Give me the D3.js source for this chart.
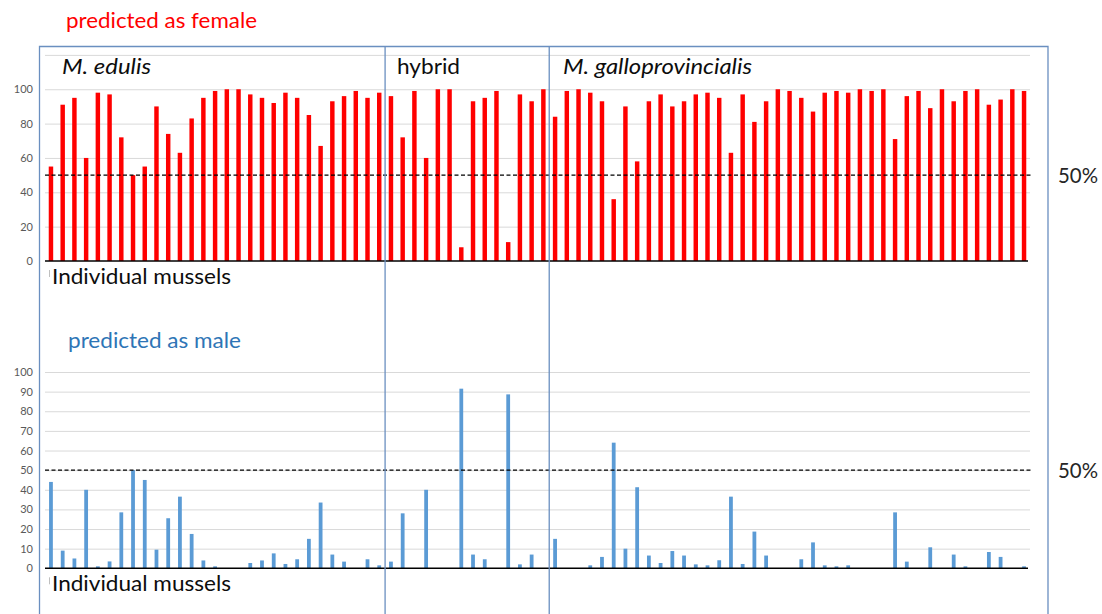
<!DOCTYPE html>
<html>
<head>
<meta charset="utf-8">
<script src="https://cdnjs.cloudflare.com/ajax/libs/d3/7.8.5/d3.min.js"></script>
<style>
  body { margin: 0; background: #fff; }
  text { font-family: Lato, "Open Sans", sans-serif; }
</style>
</head>
<body>
<div id="chart"></div>
<script>
// mussel groups, in the order they appear along the x axis
const groups = ["M. edulis", "hybrid", "M. galloprovincialis"];
const groupSizes = [29, 14, 41];

// % predicted as female, one value per individual mussel
const female = [
  55, 91, 95, 60, 98, 97, 72, 50, 55, 90, 74, 63, 83, 95, 99, 100, 100, 97, 95, 92, 98, 95, 85, 67, 93, 96, 99, 95, 98,
  96, 72, 99, 60, 100, 100, 8, 93, 95, 99, 11, 97, 93, 100,
  84, 99, 100, 98, 93, 36, 90, 58, 93, 97, 90, 93, 97, 98, 95, 63, 97, 81, 93, 100, 99, 95, 87, 98, 99, 98, 100,
  99, 100, 71, 96, 99, 89, 100, 93, 99, 100, 91, 94, 100, 99
];

// % predicted as male, same individuals
const male = [
  44, 9, 5, 40, 1, 3.5, 28.5, 50, 45, 9.5, 25.5, 36.5, 17.5, 4, 1, 0, 0, 2.7, 4, 7.6, 2.2, 4.6, 15, 33.5, 7, 3.4, 0, 4.6, 1.5,
  3.4, 28, 0, 40, 0, 0, 91.5, 7, 4.6, 0, 88.6, 2, 7, 0,
  15, 0, 0, 1.5, 5.8, 64, 10, 41.3, 6.5, 2.7, 8.8, 6.5, 2, 1.5, 4.1, 36.5, 2.2, 18.7, 6.5, 0, 0, 4.6, 13.2, 1.5, 1,
  1.5, 0, 0, 0, 28.5, 3.4, 0, 10.7, 0, 7, 1, 0, 8.3, 5.8, 0, 1
];

const femaleTicks = [0, 20, 40, 60, 80, 100];
const femaleGrid = [20, 40, 60, 80, 100, 120];
const maleTicks = [0, 10, 20, 30, 40, 50, 60, 70, 80, 90, 100];
const threshold = 50;

const width = 1102, height = 614;
const plotLeft = 45, plotRight = 1030;

const svg = d3.select("#chart")
  .append("svg")
  .attr("width", width)
  .attr("height", height);

svg.append("rect").attr("width", width).attr("height", height).attr("fill", "#fff");

// one band per mussel
const x = d3.scaleBand()
  .domain(d3.range(female.length))
  .range([45.1, 1029.9])
  .paddingInner(0.62)
  .paddingOuter(0.31);

// stretch/squeeze a text to the width it has in the picture
function fit(sel, w) {
  sel.attr("textLength", w).attr("lengthAdjust", "spacingAndGlyphs");
}

function panel(opts) {
  const y = d3.scaleLinear().domain(opts.domain).range(opts.range);
  const g = svg.append("g");

  // gridlines
  g.append("g")
    .attr("transform", `translate(${plotLeft},0)`)
    .call(d3.axisLeft(y).tickValues(opts.grid).tickSize(-(plotRight - plotLeft)).tickFormat(""))
    .call(a => a.select(".domain").remove())
    .selectAll("line").attr("stroke", "#d9d9d9").attr("stroke-width", 1);

  // tick labels
  g.append("g")
    .attr("transform", `translate(33,0)`)
    .call(d3.axisLeft(y).tickValues(opts.ticks).tickSize(0).tickPadding(0))
    .call(a => a.select(".domain").remove())
    .selectAll("text")
    .attr("fill", "#595959")
    .style("font-size", "11px")
    .style("font-family", "Lato, sans-serif");

  // bars
  const bw = x.bandwidth() * opts.barScale;
  g.selectAll(null)
    .data(opts.values)
    .join("rect")
    .attr("x", (d, i) => x(i) + (x.bandwidth() - bw) / 2)
    .attr("width", bw)
    .attr("y", d => y(d))
    .attr("height", d => y(0) - y(d))
    .attr("fill", opts.color);

  // base line
  g.append("line")
    .attr("x1", plotLeft).attr("x2", plotRight - 2)
    .attr("y1", y(0)).attr("y2", y(0))
    .attr("stroke", "#000").attr("stroke-width", 1.6);

  // 50% threshold
  g.append("line")
    .attr("x1", plotLeft).attr("x2", plotRight + 2)
    .attr("y1", y(threshold)).attr("y2", y(threshold))
    .attr("stroke", "#000").attr("stroke-width", 1.1)
    .attr("stroke-dasharray", "4,2.5");

  g.append("text")
    .attr("x", 1058).attr("y", y(threshold) + 8)
    .attr("fill", "#262626")
    .style("font-size", "21px")
    .text("50%")
    .call(fit, 40);

  g.append("line")
    .attr("x1", 49.5).attr("x2", 49.5)
    .attr("y1", y(0) + 9).attr("y2", y(0) + 16)
    .attr("stroke", "#bfbfbf");

  g.append("text")
    .attr("x", 52).attr("y", y(0) + 23)
    .attr("fill", "#0d0d0d")
    .style("font-size", "21px")
    .text("Individual mussels")
    .call(fit, 179);

  g.append("text")
    .attr("x", opts.titleX).attr("y", opts.titleY)
    .attr("fill", opts.titleColor)
    .style("font-size", "21px")
    .text(opts.title)
    .call(fit, opts.titleW);
}

panel({
  values: female, domain: [0, 120], range: [261, 54.9],
  ticks: femaleTicks, grid: femaleGrid, color: "#ff0000", barScale: 1,
  title: "predicted as female", titleColor: "#ff0000", titleX: 66, titleY: 28, titleW: 191
});

panel({
  values: male, domain: [0, 100], range: [568.3, 372],
  ticks: maleTicks, grid: maleTicks.slice(1), color: "#5b9bd5", barScale: 0.85,
  title: "predicted as male", titleColor: "#2e75b6", titleX: 68, titleY: 348, titleW: 173
});

// frame and group dividers
const frameColor = "#6a8fc0";
svg.append("path")
  .attr("d", `M39.5,${height + 5}V46.5H1048V${height + 5}`)
  .attr("fill", "none")
  .attr("stroke", frameColor)
  .attr("stroke-width", 1.3);

const starts = d3.cumsum(groupSizes);
const boundaries = Array.from(starts).slice(0, -1)
  .map(i => x(i) - x.step() * x.paddingInner() / 2);

svg.selectAll(null)
  .data(boundaries)
  .join("line")
  .attr("x1", d => d).attr("x2", d => d)
  .attr("y1", 46.5).attr("y2", height + 5)
  .attr("stroke", frameColor)
  .attr("stroke-width", 1.3);

// group names
const groupLabels = [
  { x: 62, w: 89, italic: true },
  { x: 397, w: 63, italic: false },
  { x: 563, w: 189, italic: true }
];
svg.selectAll(null)
  .data(groups)
  .join("text")
  .attr("x", (d, i) => groupLabels[i].x)
  .attr("y", 74)
  .attr("fill", "#0d0d0d")
  .style("font-size", "21px")
  .style("font-style", (d, i) => groupLabels[i].italic ? "italic" : "normal")
  .text(d => d)
  .each(function(d, i) { d3.select(this).call(fit, groupLabels[i].w); });
</script>
</body>
</html>
